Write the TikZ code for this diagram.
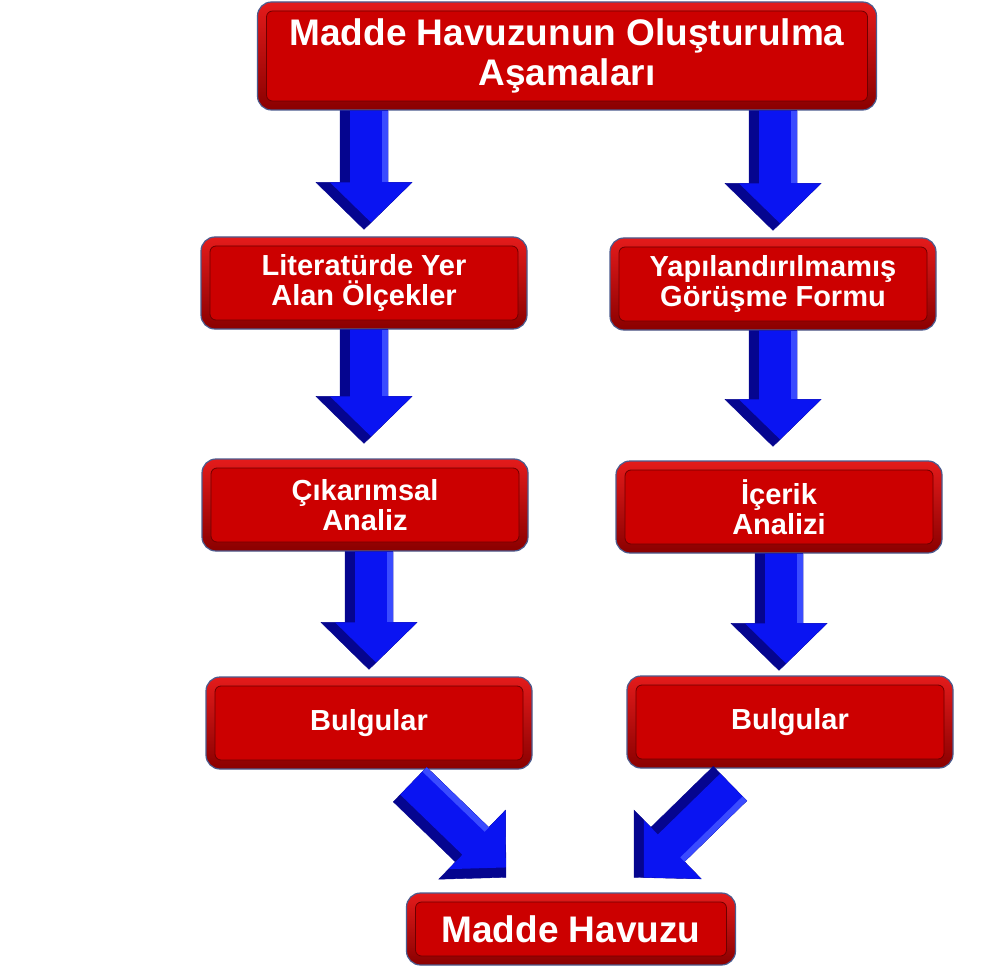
\documentclass[tikz,border=0pt]{standalone}
\usepackage{fontspec}
\setmainfont{Liberation Sans}
\usetikzlibrary{calc,positioning}

\definecolor{boxred}{HTML}{CC0000}
\definecolor{ringtop}{HTML}{E41B1B}
\definecolor{ringbottom}{HTML}{8A0000}
\definecolor{boxborder}{HTML}{4B5B8E}
\definecolor{innerline}{HTML}{6E0000}
\definecolor{arrowblue}{HTML}{0A14F2}
\definecolor{arrowdark}{HTML}{05058F}
\definecolor{arrowlight}{HTML}{3A4BFF}

\tikzset{
  stage/.style={rounded corners=14pt, draw=boxborder, line width=1.2pt,
    top color=ringtop, bottom color=ringbottom, text=white,
    font=\bfseries\fontsize{29}{30}\selectfont, align=center, inner sep=0pt,
    minimum width=326pt, minimum height=92pt,
    path picture={\filldraw[boxred, draw=innerline, line width=0.8pt, rounded corners=6pt]
      ([shift={(9pt,-9pt)}]path picture bounding box.north west) rectangle
      ([shift={(-9pt,9pt)}]path picture bounding box.south east);}},
  headline/.style={font=\bfseries\fontsize{37}{40}\selectfont},
  pics/blockarrow/.style={code={
    \filldraw[arrowdark, line width=0.4pt] (0pt,-24pt) -- (#1-47pt,-24pt) -- (#1-47pt,-48pt) -- (#1,0pt)
      -- (#1-47pt,48pt) -- (#1-47pt,24pt) -- (0pt,24pt) -- cycle;
    \fill[arrowblue] (0pt,-14pt) -- (#1-47pt,-14pt) -- (#1-47pt,-34pt) -- (#1-7pt,7pt)
      -- (#1-47pt,48pt) -- (#1-47pt,24pt) -- (0pt,24pt) -- cycle;
    \fill[arrowlight] (0pt,18pt) -- (#1-47pt,18pt) -- (#1-47pt,24pt) -- (0pt,24pt) -- cycle;
  }}
}

% 3d block arrow between two points
\newcommand{\flowarrow}[2]{\path let \p1=#1, \p2=#2,
  \n1={atan2(\y2-\y1,\x2-\x1)}, \n2={veclen(\x2-\x1,\y2-\y1)}
  in pic[rotate=\n1] at (\p1) {blockarrow=\n2};}

\begin{document}
\begin{tikzpicture}[x=1pt, y=-1pt]
  \useasboundingbox (0,0) rectangle (985,968);

  \node[stage, headline, minimum width=619pt, minimum height=108pt] (title) at (567,56)
    {Madde Havuzunun Oluşturulma\\Aşamaları};
  \node[stage] (lit) at (364,283) {Literatürde Yer\\Alan Ölçekler};
  \node[stage] (yap) at (773,284) {Yapılandırılmamış\\Görüşme Formu};
  \node[stage] (cik) at (365,505) {Çıkarımsal\\Analiz};
  \node[stage] (ice) at (779,507) {İçerik\\Analizi};
  \node[stage] (bul1) at (369,723) {Bulgular};
  \node[stage] (bul2) at (790,722) {Bulgular};
  \node[stage, headline, minimum width=329pt, minimum height=72pt] (pool) at (571,929) {Madde Havuzu};

  \flowarrow{(title.south -| lit.north)}{([shift={(0,-7)}]lit.north)}
  \flowarrow{(title.south -| yap.north)}{([shift={(0,-7)}]yap.north)}
  \flowarrow{(lit.south)}{([shift={(0,-15)}]lit.south |- cik.north)}
  \flowarrow{(yap.south)}{([shift={(0,-14)}]yap.south |- ice.north)}
  \flowarrow{(cik.south -| bul1.north)}{([shift={(0,-7)}]bul1.north)}
  \flowarrow{(ice.south)}{([shift={(0,-5)}]ice.south |- bul2.north)}
  \flowarrow{([shift={(41,15)}]bul1.south)}{([shift={(-65,-15)}]pool.north)}
  \flowarrow{([shift={(-60,15)}]bul2.south)}{([shift={(63,-15)}]pool.north)}
\end{tikzpicture}
\end{document}
